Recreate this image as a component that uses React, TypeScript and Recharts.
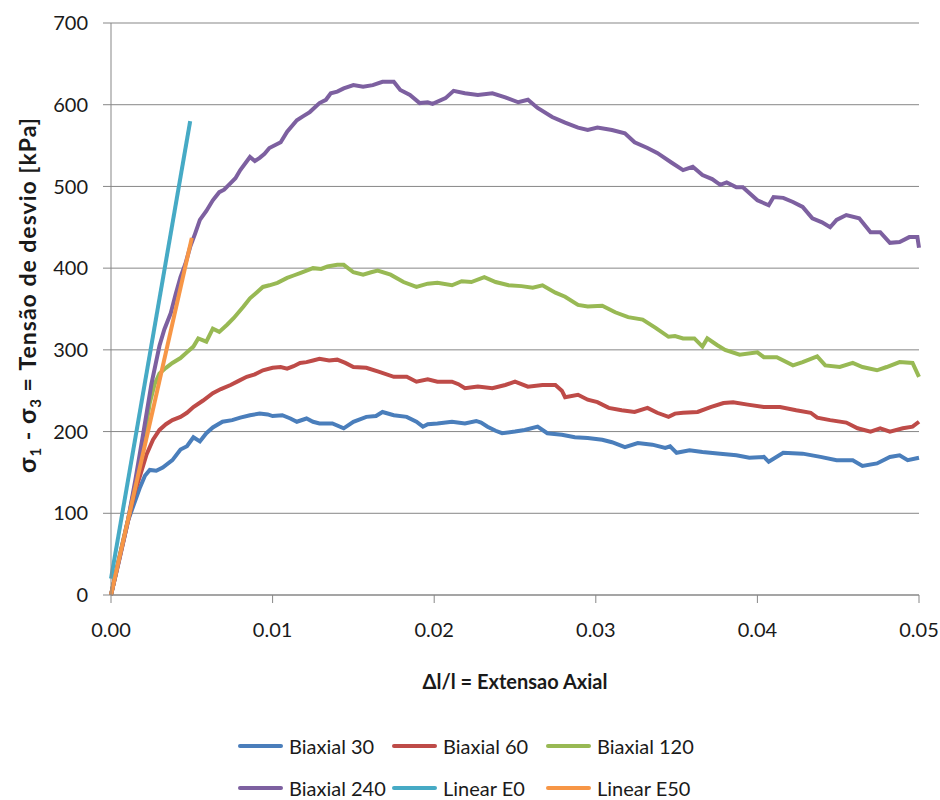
import { LineChart, Line, XAxis, YAxis, CartesianGrid, Legend } from 'recharts';

// [axial strain, deviator stress kPa]
const biaxial30: [number, number][] = [
  [0, 0], [0.0005, 45], [0.001, 88], [0.0014, 110], [0.0018, 132], [0.0021, 146], [0.0024, 153],
  [0.0028, 152], [0.0032, 156], [0.0038, 165], [0.0043, 178], [0.0047, 182], [0.0051, 193],
  [0.0055, 188], [0.0059, 198], [0.0063, 205], [0.0069, 212], [0.0075, 214], [0.008, 217],
  [0.0086, 220], [0.0092, 222], [0.0097, 221], [0.01, 219], [0.0106, 220], [0.0111, 216],
  [0.0115, 212], [0.0121, 216], [0.0125, 212], [0.0129, 210], [0.0137, 210], [0.0144, 204],
  [0.015, 212], [0.0158, 218], [0.0164, 219], [0.0168, 224], [0.0175, 220], [0.0183, 218],
  [0.0189, 212], [0.0193, 206], [0.0196, 209], [0.0202, 210], [0.0211, 212], [0.0219, 210],
  [0.0226, 213], [0.0229, 211], [0.0233, 206], [0.0238, 201], [0.0242, 198], [0.025, 200],
  [0.0256, 202], [0.0264, 206], [0.027, 198], [0.0279, 196], [0.0287, 193], [0.0295, 192],
  [0.0304, 190], [0.031, 187], [0.0318, 181], [0.0326, 186], [0.0335, 184], [0.0343, 180],
  [0.0346, 182], [0.035, 174], [0.0358, 177], [0.0366, 175], [0.0377, 173], [0.0387, 171],
  [0.0395, 168], [0.0404, 169], [0.0407, 163], [0.0416, 174], [0.0428, 173], [0.0439, 169],
  [0.0449, 165], [0.0459, 165], [0.0465, 158], [0.0474, 161], [0.0482, 169], [0.0488, 171],
  [0.0493, 165], [0.05, 168],
];

const biaxial60: [number, number][] = [
  [0, 0], [0.0005, 43], [0.001, 86], [0.0015, 128], [0.0018, 146], [0.0022, 172], [0.0026, 190],
  [0.003, 202], [0.0034, 209], [0.0038, 214], [0.0043, 218], [0.0047, 223], [0.0051, 230],
  [0.0057, 238], [0.0063, 247], [0.0068, 252], [0.0074, 257], [0.0079, 262], [0.0084, 267],
  [0.0089, 270], [0.0094, 275], [0.01, 278], [0.0105, 279], [0.0109, 277], [0.0113, 280],
  [0.0117, 284], [0.0121, 285], [0.0125, 287], [0.0129, 289], [0.0135, 287], [0.014, 288],
  [0.0145, 284], [0.015, 279], [0.0158, 278], [0.0166, 273], [0.0175, 267], [0.0183, 267],
  [0.0189, 261], [0.0196, 264], [0.0202, 261], [0.0211, 261], [0.0215, 258], [0.0219, 253],
  [0.0227, 255], [0.0236, 253], [0.0244, 257], [0.025, 261], [0.0258, 255], [0.0267, 257],
  [0.0275, 257], [0.0279, 250], [0.0281, 242], [0.0289, 245], [0.0295, 239], [0.0301, 236],
  [0.0308, 229], [0.0316, 226], [0.0324, 224], [0.0332, 229], [0.0338, 223], [0.0345, 218],
  [0.0349, 222], [0.0354, 223], [0.0363, 224], [0.0371, 230], [0.0379, 235], [0.0385, 236],
  [0.0394, 233], [0.0404, 230], [0.0414, 230], [0.0424, 226], [0.0433, 223], [0.0437, 217],
  [0.0445, 214], [0.0455, 211], [0.0462, 204], [0.047, 200], [0.0476, 204], [0.0482, 200],
  [0.049, 204], [0.0496, 206], [0.05, 212],
];

const biaxial120: [number, number][] = [
  [0, 0], [0.0005, 44], [0.001, 87], [0.0015, 135], [0.002, 185], [0.0024, 235], [0.0027, 258],
  [0.003, 271], [0.0034, 278], [0.0038, 284], [0.0043, 290], [0.0047, 297], [0.0051, 304],
  [0.0054, 314], [0.0059, 310], [0.0063, 326], [0.0067, 322], [0.0072, 331], [0.0076, 339],
  [0.0082, 353], [0.0086, 363], [0.009, 370], [0.0094, 377], [0.0098, 379], [0.0103, 382],
  [0.0109, 388], [0.0113, 391], [0.0117, 394], [0.0121, 397], [0.0125, 400], [0.013, 399],
  [0.0134, 402], [0.014, 404], [0.0144, 404], [0.015, 395], [0.0156, 392], [0.0161, 395],
  [0.0165, 397], [0.0173, 392], [0.0181, 383], [0.0189, 377], [0.0196, 381], [0.0202, 382],
  [0.0211, 379], [0.0217, 384], [0.0223, 383], [0.0231, 389], [0.0238, 383], [0.0246, 379],
  [0.0254, 378], [0.0261, 376], [0.0267, 379], [0.0275, 370], [0.0281, 365], [0.0289, 355],
  [0.0295, 353], [0.0304, 354], [0.0312, 346], [0.032, 340], [0.0329, 337], [0.0337, 327],
  [0.0345, 316], [0.0349, 317], [0.0354, 314], [0.0361, 314], [0.0366, 304], [0.0369, 314],
  [0.0375, 306], [0.038, 300], [0.0389, 294], [0.04, 297], [0.0404, 291], [0.0412, 291],
  [0.0422, 281], [0.0428, 285], [0.0437, 292], [0.0442, 281], [0.0451, 279], [0.0459, 284],
  [0.0465, 279], [0.0474, 275], [0.048, 279], [0.0488, 285], [0.0496, 284], [0.05, 267],
];

const biaxial240: [number, number][] = [
  [0, 0], [0.0005, 42], [0.001, 86], [0.0015, 140], [0.002, 198], [0.0025, 258], [0.003, 305],
  [0.0033, 325], [0.0037, 345], [0.004, 368], [0.0043, 389], [0.0046, 405], [0.0049, 426],
  [0.0052, 442], [0.0055, 459], [0.0059, 470], [0.0063, 483], [0.0067, 493], [0.007, 496],
  [0.0074, 504], [0.0077, 510], [0.008, 520], [0.0086, 536], [0.0089, 531], [0.0092, 535],
  [0.0095, 540], [0.0098, 547], [0.0105, 554], [0.0109, 567], [0.0115, 581], [0.0119, 586],
  [0.0123, 591], [0.0129, 602], [0.0133, 606], [0.0136, 614], [0.014, 616], [0.0144, 620],
  [0.015, 624], [0.0156, 622], [0.0162, 624], [0.0168, 628], [0.0175, 628], [0.0179, 618],
  [0.0185, 612], [0.0191, 602], [0.0196, 603], [0.0199, 601], [0.0207, 608], [0.0212, 617],
  [0.0219, 614], [0.0227, 612], [0.0236, 614], [0.0244, 609], [0.0252, 603], [0.0258, 606],
  [0.0264, 596], [0.0273, 585], [0.0281, 578], [0.0289, 572], [0.0295, 569], [0.0301, 572],
  [0.031, 569], [0.0318, 565], [0.0324, 554], [0.0332, 547], [0.0338, 541], [0.0347, 529],
  [0.0354, 520], [0.036, 524], [0.0366, 514], [0.0372, 509], [0.0377, 502], [0.0381, 505],
  [0.0387, 499], [0.0391, 499], [0.04, 483], [0.0407, 477], [0.041, 487], [0.0416, 486],
  [0.0422, 481], [0.0428, 475], [0.0434, 461], [0.044, 456], [0.0445, 450], [0.0449, 459],
  [0.0455, 465], [0.0463, 461], [0.047, 444], [0.0476, 444], [0.0482, 431], [0.0488, 432],
  [0.0494, 438], [0.0499, 438], [0.05, 425],
];

const linearE0: [number, number][] = [[0, 20], [0.0049, 580]];
const linearE50: [number, number][] = [[0, 0], [0.005, 437]];

const xTicks = [0, 0.01, 0.02, 0.03, 0.04, 0.05];
const yTicks = [0, 100, 200, 300, 400, 500, 600, 700];

const series = [
  { name: 'Biaxial 30', color: '#4A7EBB', points: biaxial30 },
  { name: 'Biaxial 60', color: '#BE4B48', points: biaxial60 },
  { name: 'Biaxial 120', color: '#98B954', points: biaxial120 },
  { name: 'Biaxial 240', color: '#7D60A0', points: biaxial240 },
  { name: 'Linear E0', color: '#46AAC5', points: linearE0 },
  { name: 'Linear E50', color: '#F79646', points: linearE50 },
];

const FONT = 'Lato, "Open Sans", sans-serif';
const GRID = '#878787';

const toRows = (pts: [number, number][]) => pts.map(([x, y]) => ({ x, y }));

function LegendBox() {
  const cols = [238, 392, 546];
  return (
    <div style={{ position: 'relative', width: 940, height: 74, fontFamily: FONT, fontSize: 20, lineHeight: '22px', color: '#1a1a1a' }}>
      {series.map((s, i) => (
        <div
          key={s.name}
          style={{
            position: 'absolute',
            left: cols[i % 3],
            top: 10 + Math.floor(i / 3) * 42,
            height: 22,
            display: 'flex',
            alignItems: 'center',
            whiteSpace: 'nowrap',
          }}
        >
          <span style={{ display: 'inline-block', width: 45, height: 4, borderRadius: 2, background: s.color, marginRight: 6 }} />
          {s.name}
        </div>
      ))}
    </div>
  );
}

export default function App() {
  return (
    <div style={{ position: 'absolute', left: 0, top: 0, width: 940, height: 800, background: '#fff', overflow: 'hidden' }}>
      <LineChart width={940} height={800} margin={{ top: 23, right: 21, bottom: 145, left: 31 }}>
        <CartesianGrid vertical={false} stroke={GRID} strokeWidth={1} />
        <XAxis
          type="number"
          dataKey="x"
          domain={[0, 0.05]}
          ticks={xTicks}
          tickFormatter={(v: number) => v.toFixed(2)}
          height={60}
          stroke={GRID}
          tickSize={8}
          tickMargin={20}
          tick={{ fill: '#1a1a1a', fontSize: 20, fontFamily: FONT }}
          label={{
            content: () => (
              <text x={515} y={689} textAnchor="middle" fontFamily={FONT} fontSize={20} fontWeight="bold" fill="#1a1a1a">
                Δl/l = Extensao Axial
              </text>
            ),
          }}
        />
        <YAxis
          type="number"
          domain={[0, 700]}
          ticks={yTicks}
          width={80}
          stroke={GRID}
          tickSize={8}
          tickMargin={15}
          tick={{ fill: '#1a1a1a', fontSize: 20, fontFamily: FONT }}
          label={{
            content: () => (
              <text transform="rotate(-90)" x={-295} y={36} textAnchor="middle" fontFamily={FONT} fontSize={23} letterSpacing={1} fontWeight="bold" fill="#1a1a1a">
                <tspan fontSize={25}>σ</tspan>
                <tspan dy={5} fontSize={15}>1</tspan>
                <tspan dy={-5}> - </tspan>
                <tspan fontSize={25}>σ</tspan>
                <tspan dy={5} fontSize={15}>3</tspan>
                <tspan dy={-5}> =  Tensão de desvio [kPa]</tspan>
              </text>
            ),
          }}
        />
        {series.map((s) => (
          <Line
            key={s.name}
            data={toRows(s.points)}
            dataKey="y"
            name={s.name}
            type="linear"
            stroke={s.color}
            strokeWidth={4}
            dot={false}
            isAnimationActive={false}
          />
        ))}
        <Legend
          layout="horizontal"
          verticalAlign="middle"
          align="center"
          content={() => <LegendBox />}
          wrapperStyle={{ left: 0, top: 725, width: 940 }}
        />
      </LineChart>
    </div>
  );
}
